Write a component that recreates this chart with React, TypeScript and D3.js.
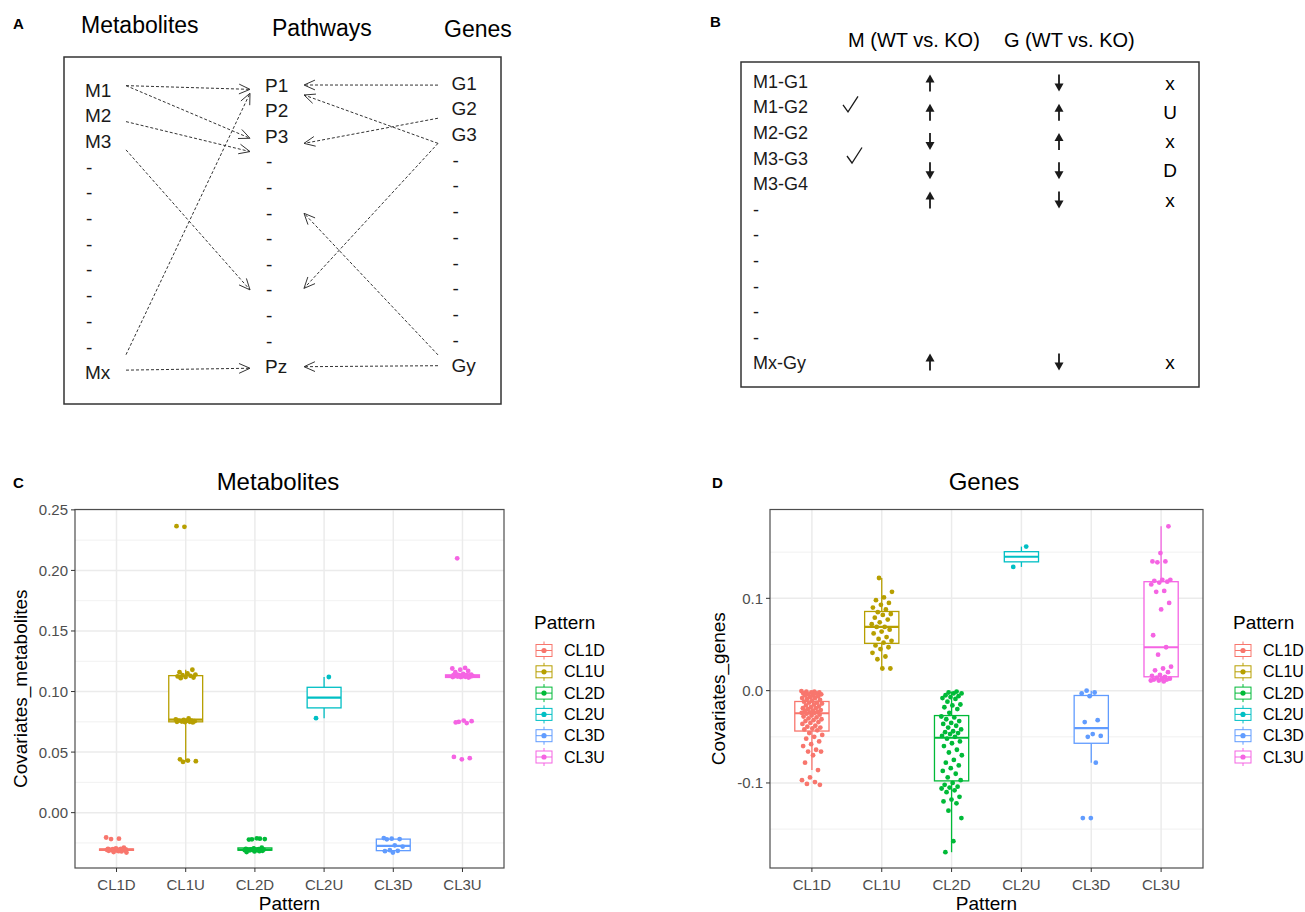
import React from "react";
import * as d3 from "d3";

const FONT = "Liberation Sans, Arial, Helvetica, sans-serif";
const INK = "#1a1a1a";

// ---------- panel A: metabolite / pathway / gene links ----------
const METAB_NODES = ["M1", "M2", "M3", "-", "-", "-", "-", "-", "-", "-", "-", "Mx"];
const PATH_NODES = ["P1", "P2", "P3", "-", "-", "-", "-", "-", "-", "-", "-", "Pz"];
const GENE_NODES = ["G1", "G2", "G3", "-", "-", "-", "-", "-", "-", "-", "-", "Gy"];
// where each dashed link leaves its source row and lands on the pathway column
const LINKS = [
  { from: "M", fromRow: -0.17, toRow: 0.17 },
  { from: "M", fromRow: -0.17, toRow: 2.08 },
  { from: "M", fromRow: 1.23, toRow: 2.6 },
  { from: "M", fromRow: 2.33, toRow: 8.0 },
  { from: "M", fromRow: 10.3, toRow: 0.32 },
  { from: "M", fromRow: 10.9, toRow: 11.06 },
  { from: "G", fromRow: 0.07, toRow: 0 },
  { from: "G", fromRow: 2.34, toRow: 0.39 },
  { from: "G", fromRow: 1.36, toRow: 2.28 },
  { from: "G", fromRow: 2.34, toRow: 7.94 },
  { from: "G", fromRow: 10.58, toRow: 5.01 },
  { from: "G", fromRow: 11, toRow: 11 },
];

// ---------- panel B: direction table ----------
const PAIRS = ["M1-G1", "M1-G2", "M2-G2", "M3-G3", "M3-G4", "-", "-", "-", "-", "-", "-", "Mx-Gy"];
const PAIR_CHECKED = [1, 3];
const DIR_ROWS = [0, 1, 2, 3, 4, 11];
const M_DIR = ["up", "up", "down", "down", "up", "up"];
const G_DIR = ["down", "up", "up", "down", "down", "down"];
const PAIR_RESULT = ["x", "U", "x", "D", "x", "x"];

// ---------- panels C and D: covariates by pattern ----------
const PATTERNS = ["CL1D", "CL1U", "CL2D", "CL2U", "CL3D", "CL3U"];
const PATTERN_COLORS = ["#F8766D", "#B79F00", "#00BA38", "#00BFC4", "#619CFF", "#F564E3"];

const MET_CL1D = [-0.0205, -0.0215, -0.0218, -0.029, -0.0295, -0.03, -0.03, -0.0302, -0.0304, -0.0305, -0.0305, -0.0305,
  -0.0306, -0.0307, -0.0308, -0.031, -0.031, -0.0312, -0.0315, -0.032, -0.0325, -0.033, -0.0318];
const MET_CL1U = [0.042, 0.0425, 0.043, 0.044, 0.0745, 0.0748, 0.075, 0.075, 0.0752, 0.0755, 0.0757, 0.076, 0.076, 0.0765,
  0.077, 0.0778, 0.111, 0.1115, 0.112, 0.1125, 0.113, 0.1135, 0.114, 0.115, 0.116, 0.118, 0.236, 0.2365];
const MET_CL2D = [-0.0215, -0.022, -0.0218, -0.0212, -0.0222, -0.029, -0.0295, -0.03, -0.0302, -0.0304, -0.0305, -0.0305,
  -0.0306, -0.0307, -0.0308, -0.031, -0.031, -0.0312, -0.0315, -0.032, -0.0325, -0.0318];
const MET_CL2U = [0.078, 0.112];
const MET_CL3D = [-0.033, -0.0318, -0.0315, -0.031, -0.028, -0.027, -0.022, -0.0218, -0.0215, -0.021];
const MET_CL3U = [0.045, 0.044, 0.046, 0.074, 0.075, 0.0755, 0.076, 0.0745, 0.1115, 0.112, 0.112, 0.1122, 0.1124, 0.1125,
  0.1126, 0.1128, 0.113, 0.113, 0.113, 0.1131, 0.1132, 0.1133, 0.1134, 0.1135, 0.1136, 0.1138, 0.114, 0.1145, 0.116,
  0.117, 0.118, 0.119, 0.1195, 0.21];

const GEN_CL1D = [-0.0005, -0.001, -0.001, -0.002, -0.002, -0.003, -0.003, -0.004, -0.004, -0.005, -0.005, -0.006, -0.007,
  -0.008, -0.008, -0.009, -0.01, -0.011, -0.012, -0.013, -0.013, -0.014, -0.015, -0.016, -0.017, -0.018, -0.019, -0.019,
  -0.02, -0.021, -0.022, -0.022, -0.023, -0.0235, -0.024, -0.024, -0.025, -0.026, -0.027, -0.028, -0.029, -0.03, -0.031,
  -0.032, -0.033, -0.034, -0.035, -0.036, -0.038, -0.039, -0.04, -0.041, -0.042, -0.043, -0.046, -0.048, -0.05, -0.052,
  -0.055, -0.058, -0.06, -0.064, -0.066, -0.066, -0.07, -0.078, -0.086, -0.094, -0.097, -0.099, -0.101, -0.102];
const GEN_CL1U = [0.122, 0.107, 0.101, 0.098, 0.095, 0.093, 0.09, 0.088, 0.085, 0.083, 0.082, 0.079, 0.077, 0.074, 0.072,
  0.069, 0.069, 0.066, 0.064, 0.062, 0.058, 0.056, 0.054, 0.052, 0.049, 0.047, 0.045, 0.041, 0.037, 0.034, 0.024, 0.024];
const GEN_CL2D = [-0.001, -0.002, -0.003, -0.003, -0.005, -0.006, -0.007, -0.008, -0.009, -0.012, -0.015, -0.016, -0.018,
  -0.02, -0.024, -0.028, -0.029, -0.031, -0.033, -0.035, -0.036, -0.038, -0.04, -0.042, -0.044, -0.045, -0.046, -0.047,
  -0.049, -0.05, -0.052, -0.055, -0.057, -0.06, -0.064, -0.067, -0.07, -0.075, -0.078, -0.081, -0.084, -0.087, -0.09,
  -0.094, -0.097, -0.1, -0.102, -0.104, -0.105, -0.106, -0.108, -0.11, -0.115, -0.118, -0.12, -0.122, -0.13, -0.138,
  -0.163, -0.175];
const GEN_CL2U = [0.134, 0.156];
const GEN_CL3D = [-0.138, -0.138, -0.078, -0.05, -0.049, -0.047, -0.034, -0.032, -0.006, -0.003, -0.002, 0.0];
const GEN_CL3U = [0.178, 0.149, 0.14, 0.14, 0.139, 0.12, 0.12, 0.119, 0.118, 0.117, 0.115, 0.108, 0.107, 0.095, 0.088,
  0.06, 0.047, 0.039, 0.026, 0.024, 0.022, 0.02, 0.017, 0.016, 0.015, 0.014, 0.013, 0.013, 0.012, 0.012, 0.011, 0.011, 0.01];

const MET_TICKS = [0, 0.05, 0.1, 0.15, 0.2, 0.25];
const MET_MINOR = [-0.025, 0.025, 0.075, 0.125, 0.175, 0.225];
const GEN_TICKS = [-0.1, 0, 0.1];
const GEN_MINOR = [-0.15, -0.05, 0.05, 0.15];

function arrowHead(x1: number, y1: number, x2: number, y2: number, len = 12, spread = 0.42) {
  const a = Math.atan2(y1 - y2, x1 - x2);
  const p1 = [x2 + len * Math.cos(a + spread), y2 + len * Math.sin(a + spread)];
  const p2 = [x2 + len * Math.cos(a - spread), y2 + len * Math.sin(a - spread)];
  return `M${p1[0]},${p1[1]}L${x2},${y2}L${p2[0]},${p2[1]}`;
}

function PanelA() {
  const colX: Record<string, number> = { M: 85, P: 265, G: 451.6 };
  const rowY: Record<string, d3.ScaleLinear<number, number>> = {
    M: d3.scaleLinear().domain([0, 11]).range([90, 372.7]),
    P: d3.scaleLinear().domain([0, 11]).range([85, 366.7]),
    G: d3.scaleLinear().domain([0, 11]).range([83.3, 365.7]),
  };
  const outX: Record<string, number> = { M: 126, G: 438 };
  const inX: Record<string, number> = { M: 250, G: 304 };
  const cols: [string, string[]][] = [["M", METAB_NODES], ["P", PATH_NODES], ["G", GENE_NODES]];

  return (
    <g fontFamily={FONT}>
      <text x={13} y={23} fontSize={15} fontWeight="bold" dominantBaseline="central">A</text>
      <text x={81} y={25} fontSize={23} dominantBaseline="central">Metabolites</text>
      <text x={272} y={28} fontSize={23} dominantBaseline="central">Pathways</text>
      <text x={444} y={29} fontSize={23} dominantBaseline="central">Genes</text>
      <rect x={64} y={57} width={437} height={347} fill="none" stroke="#333" strokeWidth={1.5} />
      {cols.map(([key, nodes]) =>
        nodes.map((n, i) => (
          <text key={key + i} x={colX[key] + (n === "-" ? 1 : 0)} y={rowY[key](i)} fontSize={19}
            dominantBaseline="central" fill={INK}>{n}</text>
        ))
      )}
      {LINKS.map((l, i) => {
        const x1 = outX[l.from], y1 = rowY[l.from](l.fromRow);
        const x2 = inX[l.from], y2 = rowY.P(l.toRow);
        return (
          <g key={i} stroke="#333" fill="none" strokeWidth={1}>
            <line x1={x1} y1={y1} x2={x2} y2={y2} strokeDasharray="3,2" />
            <path d={arrowHead(x1, y1, x2, y2)} />
          </g>
        );
      })}
    </g>
  );
}

function DirArrow({ x, y, dir }: { x: number; y: number; dir: string }) {
  const s = dir === "up" ? -1 : 1;
  const tip = y + s * 8.5;
  return (
    <g fill={INK} stroke={INK}>
      <line x1={x} y1={y - s * 8.5} x2={x} y2={tip - s * 5} strokeWidth={1.8} />
      <path d={`M${x},${tip}L${x - 4.5},${tip - s * 8}L${x + 4.5},${tip - s * 8}Z`} stroke="none" />
    </g>
  );
}

function PanelB() {
  const labelY = d3.scaleLinear().domain([0, 11]).range([81.7, 363.3]);
  const markY = d3.scaleLinear().domain([0, 4, 11]).range([83, 200, 362]);
  return (
    <g fontFamily={FONT}>
      <text x={710} y={21} fontSize={15} fontWeight="bold" dominantBaseline="central">B</text>
      <text x={848} y={40} fontSize={20} dominantBaseline="central">M (WT vs. KO)</text>
      <text x={1004} y={40} fontSize={20} dominantBaseline="central">G (WT vs. KO)</text>
      <rect x={741} y={62} width={458} height={325} fill="none" stroke="#333" strokeWidth={1.5} />
      {PAIRS.map((p, i) => (
        <text key={i} x={753} y={labelY(i)} fontSize={18} dominantBaseline="central" fill={INK}>{p}</text>
      ))}
      {PAIR_CHECKED.map((r) => {
        const x0 = 841 + r * 2, ly = labelY(r) - 1;
        return (
          <path key={r} d={`M${x0},${ly - 1.5}L${x0 + 5},${ly + 5.5}L${x0 + 15},${ly - 10}`}
            fill="none" stroke={INK} strokeWidth={1.3} />
        );
      })}
      {DIR_ROWS.map((r, i) => (
        <g key={r}>
          <DirArrow x={930} y={markY(r)} dir={M_DIR[i]} />
          <DirArrow x={1059} y={markY(r)} dir={G_DIR[i]} />
          <text x={1170} y={markY(r)} fontSize={19} textAnchor="middle" dominantBaseline="central">
            {PAIR_RESULT[i]}
          </text>
        </g>
      ))}
    </g>
  );
}

function boxStats(vals: number[]) {
  const s = [...vals].sort(d3.ascending);
  const q1 = d3.quantile(s, 0.25)!, med = d3.quantile(s, 0.5)!, q3 = d3.quantile(s, 0.75)!;
  const iqr = q3 - q1;
  const lo = d3.min(s.filter((v) => v >= q1 - 1.5 * iqr))!;
  const hi = d3.max(s.filter((v) => v <= q3 + 1.5 * iqr))!;
  return { q1, med, q3, lo, hi };
}

type BoxPanelProps = {
  letter: string; title: string; yTitle: string; series: number[][];
  domain: [number, number]; ticks: number[]; minor: number[]; fmt: (v: number) => string;
  left: number; right: number; letterX: number; titleX: number; yTitleX: number; legendX: number;
};

function BoxPanel(p: BoxPanelProps) {
  const top = 509.5, bottom = 868;
  const x = d3.scalePoint<string>().domain(PATTERNS).range([p.left, p.right]).padding(0.6);
  const y = d3.scaleLinear().domain(p.domain).range([bottom, top]);
  const step = x.step();
  const half = step * 0.245;
  const jit = step * 0.15;
  const legendY = d3.scalePoint<string>().domain(PATTERNS).range([650.5, 757]);
  const cx = (p.left + p.right) / 2;

  return (
    <g fontFamily={FONT}>
      <text x={p.letterX} y={482} fontSize={15} fontWeight="bold" dominantBaseline="central">{p.letter}</text>
      <text x={p.titleX} y={481} fontSize={24} textAnchor="middle" dominantBaseline="central">{p.title}</text>
      {/* grid */}
      {p.minor.map((v) => (
        <line key={"m" + v} x1={p.left} x2={p.right} y1={y(v)} y2={y(v)} stroke="#EEEEEE" strokeWidth={0.8} />
      ))}
      {p.ticks.map((v) => (
        <line key={"t" + v} x1={p.left} x2={p.right} y1={y(v)} y2={y(v)} stroke="#EBEBEB" strokeWidth={1.5} />
      ))}
      {PATTERNS.map((c) => (
        <line key={c} x1={x(c)} x2={x(c)} y1={top} y2={bottom} stroke="#EBEBEB" strokeWidth={1.5} />
      ))}
      {/* boxes */}
      {p.series.map((vals, i) => {
        const st = boxStats(vals);
        const c = x(PATTERNS[i])!;
        const col = PATTERN_COLORS[i];
        return (
          <g key={i} stroke={col} strokeWidth={1.3}>
            <line x1={c} x2={c} y1={y(st.hi)} y2={y(st.q3)} />
            <line x1={c} x2={c} y1={y(st.q1)} y2={y(st.lo)} />
            <rect x={c - half} y={y(st.q3)} width={half * 2} height={Math.max(0.5, y(st.q1) - y(st.q3))} fill="white" />
            <line x1={c - half} x2={c + half} y1={y(st.med)} y2={y(st.med)} strokeWidth={2.2} />
          </g>
        );
      })}
      {/* jittered points */}
      {p.series.map((vals, i) =>
        vals.map((v, j) => {
          const off = (((j * 0.6180339887 + i * 0.37) % 1) - 0.5) * 2 * jit;
          return <circle key={i + "-" + j} cx={x(PATTERNS[i])! + off} cy={y(v)} r={2.4} fill={PATTERN_COLORS[i]} />;
        })
      )}
      <rect x={p.left} y={top} width={p.right - p.left} height={bottom - top} fill="none" stroke="#4d4d4d" strokeWidth={1.2} />
      {/* axes */}
      {p.ticks.map((v) => (
        <g key={"yl" + v}>
          <line x1={p.left - 4} x2={p.left} y1={y(v)} y2={y(v)} stroke="#333" strokeWidth={1} />
          <text x={p.left - 7} y={y(v)} fontSize={15} fill="#4D4D4D" textAnchor="end" dominantBaseline="central">
            {p.fmt(v)}
          </text>
        </g>
      ))}
      {PATTERNS.map((c) => (
        <g key={"xl" + c}>
          <line x1={x(c)} x2={x(c)} y1={bottom} y2={bottom + 4} stroke="#333" strokeWidth={1} />
          <text x={x(c)} y={884} fontSize={15} fill="#4D4D4D" textAnchor="middle" dominantBaseline="central">{c}</text>
        </g>
      ))}
      <text x={cx} y={903} fontSize={19} textAnchor="middle" dominantBaseline="central">Pattern</text>
      <text transform={`translate(${p.yTitleX},${(top + bottom) / 2}) rotate(-90)`} fontSize={19}
        textAnchor="middle" dominantBaseline="central">{p.yTitle}</text>
      {/* legend */}
      <text x={p.legendX} y={622} fontSize={19} dominantBaseline="central">Pattern</text>
      {PATTERNS.map((c, i) => {
        const ly = legendY(c)!;
        const kx = p.legendX + 10;
        const col = PATTERN_COLORS[i];
        return (
          <g key={"lg" + c}>
            <g stroke={col} strokeWidth={1}>
              <line x1={kx} x2={kx} y1={ly - 9} y2={ly + 9} />
              <rect x={kx - 8} y={ly - 6} width={16} height={12} fill="white" />
              <line x1={kx - 8} x2={kx + 8} y1={ly} y2={ly} />
            </g>
            <circle cx={kx} cy={ly} r={2.6} fill={col} />
            <text x={p.legendX + 30} y={ly} fontSize={16} dominantBaseline="central">{c}</text>
          </g>
        );
      })}
    </g>
  );
}

export default function App() {
  return (
    <svg width={1305} height={912} viewBox="0 0 1305 912"
      style={{ position: "absolute", left: 0, top: 0, background: "white" }}>
      <rect width={1305} height={912} fill="white" />
      <PanelA />
      <PanelB />
      <BoxPanel letter="C" title="Metabolites" yTitle="Covariates_metabolites"
        series={[MET_CL1D, MET_CL1U, MET_CL2D, MET_CL2U, MET_CL3D, MET_CL3U]}
        domain={[-0.0457, 0.2503]} ticks={MET_TICKS} minor={MET_MINOR} fmt={(v) => v.toFixed(2)}
        left={75} right={504} letterX={13} titleX={278} yTitleX={20} legendX={534} />
      <BoxPanel letter="D" title="Genes" yTitle="Covariates_genes"
        series={[GEN_CL1D, GEN_CL1U, GEN_CL2D, GEN_CL2U, GEN_CL3D, GEN_CL3U]}
        domain={[-0.1921, 0.1962]} ticks={GEN_TICKS} minor={GEN_MINOR} fmt={(v) => v.toFixed(1)}
        left={770} right={1203} letterX={712} titleX={984} yTitleX={718} legendX={1233} />
    </svg>
  );
}
